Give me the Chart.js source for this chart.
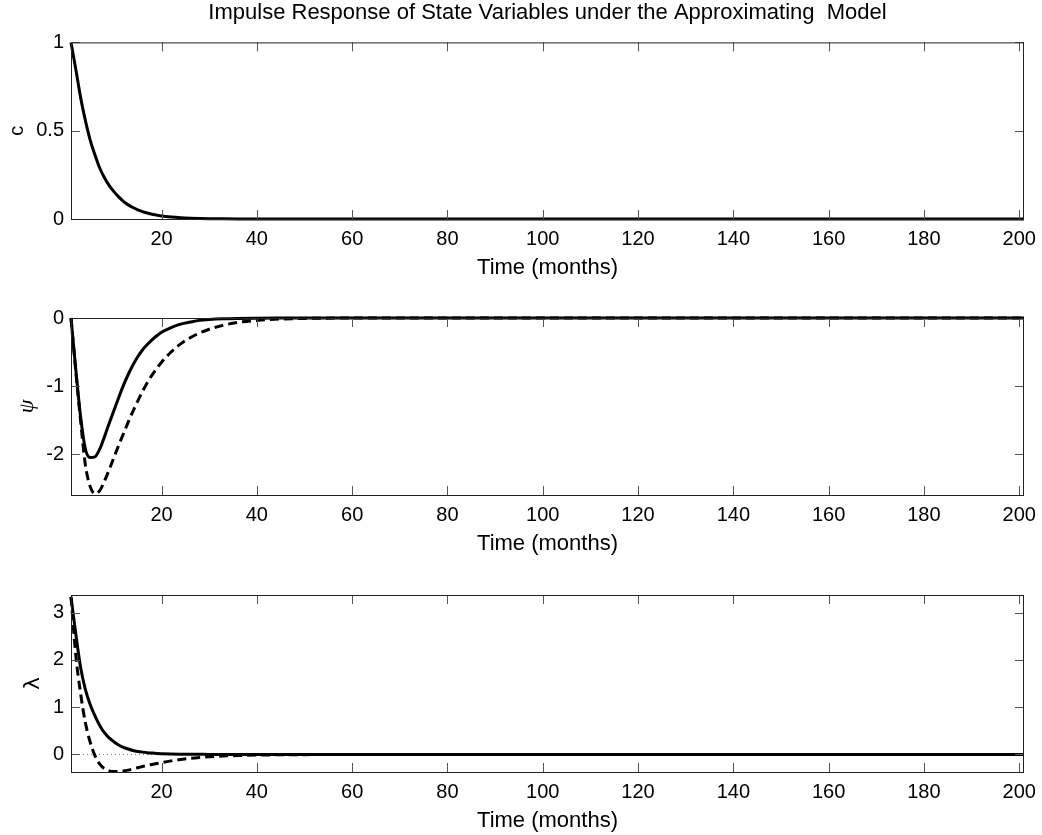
<!DOCTYPE html>
<html>
<head>
<meta charset="utf-8">
<script src="https://cdn.jsdelivr.net/npm/chart.js@4"></script>
<style>
  body { margin: 0; background: #fff; }
  #wrap { position: relative; width: 1042px; height: 835px; background: #fff; }
  canvas { position: absolute; left: 0; }
</style>
</head>
<body>
<div id="wrap">
  <canvas id="cChart" width="1042" height="281" style="top:0px"></canvas>
  <canvas id="psiChart" width="1042" height="278" style="top:279px"></canvas>
  <canvas id="lambdaChart" width="1042" height="279" style="top:555px"></canvas>
</div>
<script>
// ----- data ----- //
const TIME = [1, 2, 3, 4, 5, 6, 7, 8, 9, 10, 11, 12, 13, 14, 15, 16, 17, 18, 19, 20,
  22, 24, 26, 28, 30, 33, 36, 40, 45, 50, 60, 201];

const C_RESPONSE = [1.0, 0.85, 0.69, 0.56, 0.45, 0.365, 0.29, 0.235, 0.19, 0.155,
  0.125, 0.1, 0.08, 0.065, 0.052, 0.042, 0.034, 0.027, 0.022, 0.017,
  0.011, 0.007, 0.0045, 0.003, 0.002, 0.001, 0.0005, 0.0002, 0.0001, 0, 0, 0];

const PSI_SOLID = [0, -0.75, -1.44, -1.92, -2.05, -2.04, -1.93, -1.75, -1.55, -1.36,
  -1.17, -0.99, -0.83, -0.69, -0.57, -0.47, -0.39, -0.32, -0.26, -0.21,
  -0.14, -0.09, -0.06, -0.035, -0.022, -0.011, -0.006, -0.003, -0.001, 0, 0, 0];

const PSI_DASHED = [0, -0.78, -1.5, -2.15, -2.47, -2.58, -2.54, -2.4, -2.23, -2.05,
  -1.87, -1.7, -1.53, -1.37, -1.22, -1.08, -0.95, -0.84, -0.74, -0.65,
  -0.5, -0.38, -0.29, -0.22, -0.165, -0.105, -0.065, -0.035, -0.015, -0.006, -0.001, 0];

const LAMBDA_SOLID = [3.33, 2.55, 1.85, 1.38, 1.06, 0.82, 0.62, 0.46, 0.35, 0.27,
  0.2, 0.15, 0.115, 0.085, 0.065, 0.05, 0.038, 0.03, 0.023, 0.018,
  0.011, 0.007, 0.004, 0.003, 0.002, 0.001, 0.0005, 0.0002, 0, 0, 0, 0];

const LAMBDA_DASHED = [3.33, 2.1, 1.3, 0.68, 0.27, -0.02, -0.2, -0.3, -0.345, -0.36,
  -0.36, -0.35, -0.33, -0.305, -0.28, -0.255, -0.23, -0.21, -0.19, -0.17,
  -0.135, -0.105, -0.08, -0.062, -0.048, -0.033, -0.022, -0.013, -0.006, -0.003, -0.001, 0];

const ZERO_LINE_X = [1, 201];
const ZERO_LINE_Y = [0, 0];

const X_TICKS = [20, 40, 60, 80, 100, 120, 140, 160, 180, 200];
const C_TICKS = [0, 0.5, 1];
const PSI_TICKS = [-2, -1, 0];
const LAMBDA_TICKS = [0, 1, 2, 3];

const TITLE = "Impulse Response of State Variables under the Approximating  Model";
const X_LABEL = "Time (months)";
const TICK_LEN = 9;

Chart.defaults.font.family = "'Liberation Sans', Arial, sans-serif";
Chart.defaults.font.size = 20;
Chart.defaults.color = "#000";

function toPoints(xs, ys) {
  return xs.map((x, i) => ({ x: x, y: ys[i] }));
}

// box round the plot area with inward ticks on all four sides
const boxPlugin = {
  id: "matlabBox",
  afterDatasetsDraw(chart) {
    const { ctx, chartArea: a, scales } = chart;
    ctx.save();
    ctx.lineWidth = 1;
    ctx.strokeStyle = "#555";
    ctx.beginPath();
    scales.x.ticks.forEach((t) => {
      const x = Math.round(scales.x.getPixelForValue(t.value)) + 0.5;
      ctx.moveTo(x, a.top);
      ctx.lineTo(x, a.top + TICK_LEN);
      ctx.moveTo(x, a.bottom);
      ctx.lineTo(x, a.bottom - TICK_LEN);
    });
    scales.y.ticks.forEach((t) => {
      const y = Math.round(scales.y.getPixelForValue(t.value)) + 0.5;
      ctx.moveTo(a.left, y);
      ctx.lineTo(a.left + TICK_LEN, y);
      ctx.moveTo(a.right, y);
      ctx.lineTo(a.right - TICK_LEN, y);
    });
    ctx.stroke();
    ctx.strokeStyle = "#222";
    ctx.strokeRect(a.left + 0.5, a.top + 0.5, a.right - a.left - 1, a.bottom - a.top);
    ctx.restore();
  },
};

function lineSet(values, dashed) {
  return {
    data: toPoints(TIME, values),
    borderColor: "#000",
    borderWidth: 3,
    borderDash: dashed ? [9, 5] : [],
    pointRadius: 0,
    cubicInterpolationMode: "monotone",
    clip: 4,
  };
}

function makePanel(canvasId, cfg) {
  const ctx = document.getElementById(canvasId).getContext("2d");
  return new Chart(ctx, {
    type: "line",
    data: { datasets: cfg.datasets },
    options: {
      responsive: false,
      animation: false,
      events: [],
      layout: {
        autoPadding: false,
        padding: { top: cfg.top, left: cfg.left, right: 18, bottom: 0 },
      },
      plugins: {
        legend: { display: false },
        tooltip: { enabled: false },
        title: cfg.title
          ? {
              display: true,
              text: cfg.title,
              fullSize: false,
              font: { size: 22, weight: "normal" },
              color: "#000",
              padding: { top: 0, bottom: 16 },
            }
          : { display: false },
      },
      scales: {
        x: {
          type: "linear",
          min: 1,
          max: 201,
          afterBuildTicks: (scale) => {
            scale.ticks = X_TICKS.map((v) => ({ value: v }));
          },
          afterFit: (scale) => {
            scale.height = 62;
            scale.paddingLeft = 0;
            scale.paddingRight = 0;
          },
          grid: { display: false, drawTicks: false },
          border: { display: false },
          ticks: { padding: 8, maxRotation: 0, autoSkip: false },
          title: { display: true, text: X_LABEL, padding: 0, font: { size: 22 } },
        },
        y: {
          type: "linear",
          min: cfg.yMin,
          max: cfg.yMax,
          afterBuildTicks: (scale) => {
            scale.ticks = cfg.yTicks.map((v) => ({ value: v }));
          },
          afterFit: (scale) => {
            scale.width = 71 - cfg.left;
          },
          grid: { display: false, drawTicks: false },
          border: { display: false },
          ticks: { padding: 7, autoSkip: false, callback: (v) => String(v) },
          title: { display: true, text: cfg.yLabel, padding: 0, font: cfg.yFont },
        },
      },
    },
    plugins: [boxPlugin],
  });
}

makePanel("cChart", {
  title: TITLE,
  top: 0,
  left: 5,
  yMin: 0,
  yMax: 1,
  yTicks: C_TICKS,
  yLabel: "c",
  yFont: { size: 20 },
  datasets: [lineSet(C_RESPONSE, false)],
});

makePanel("psiChart", {
  top: 39,
  left: 14,
  yMin: -2.6,
  yMax: 0,
  yTicks: PSI_TICKS,
  yLabel: "\u03c8",
  yFont: { size: 22, family: "'Liberation Serif', serif", style: "italic" },
  datasets: [lineSet(PSI_SOLID, false), lineSet(PSI_DASHED, true)],
});

makePanel("lambdaChart", {
  top: 40,
  left: 20,
  yMin: -0.37,
  yMax: 3.37,
  yTicks: LAMBDA_TICKS,
  yLabel: "\u03bb",
  yFont: { size: 22, family: "'DejaVu Sans', sans-serif" },
  datasets: [
    lineSet(LAMBDA_SOLID, false),
    lineSet(LAMBDA_DASHED, true),
    {
      data: toPoints(ZERO_LINE_X, ZERO_LINE_Y),
      borderColor: "#888",
      borderWidth: 1,
      borderDash: [1, 3],
      pointRadius: 0,
      order: 5,
    },
  ],
});
</script>
</body>
</html>
